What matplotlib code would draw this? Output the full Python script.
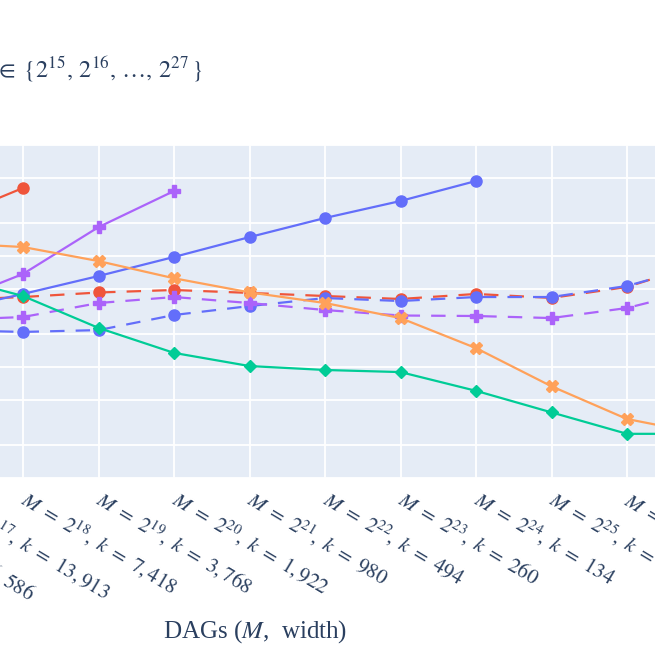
import numpy as np
import matplotlib
matplotlib.use("Agg")
import matplotlib.pyplot as plt
from matplotlib.transforms import ScaledTranslation

plt.rcParams['mathtext.fontset'] = 'stix'
plt.rcParams['font.family'] = ['Liberation Serif', 'DejaVu Serif']

#%% Data (DAG sizes M = 2^15 .. 2^27, widths k)
exps = list(range(15, 28))
widths = ['51,243', '26,586', '13,913', '7,418', '3,768', '1,922', '980',
          '494', '260', '134', '70', '36', '19']
labels = [rf"$M\ =\ 2^{{{e}}},\ k\ =\ {w}$" for e, w in zip(exps, widths)]

# solid traces
blue_solid = [18, 25, 32, 45.5, 66, 98, 148, 220, 313, 474]
red_solid = [110, 160, 215, 410]
green_solid = [130, 95, 66, 43.6, 22.5, 13.4, 10.2, 9.4, 9.0, 6.1, 3.9, 2.5, 2.5]
purple_solid = [18, 26, 37, 68.9, 182, 385]
orange_solid = [140, 136, 131, 120.5, 90, 63, 47, 37.7, 27.6, 14.8, 6.7, 3.4, 2.5]
# dashed traces
red_dashed = [38, 39, 40, 42.7, 46.9, 49.4, 46.5, 43.6, 41, 45.5, 41.9, 52.6, 86.5]
blue_dashed = [21, 21, 21.5, 20.7, 21.5, 29.4, 35.4, 41.8, 39.3, 42.7, 42.7, 53.7, 83]
purple_dashed = [25, 26, 26.5, 28.2, 37.7, 42.7, 37.7, 32.6, 29.1, 28.8, 27.6, 34, 50.4]

#%% Figure
W = 655
fig = plt.figure(figsize=(6.55, 6.55), dpi=100)
# plot area extends beyond the canvas (cropped view)
step = 75.5
x0px = 23 - 3 * step - 0.5 * step
wpx = 13 * step
ax = fig.add_axes([x0px / W, 1 - 478 / W, wpx / W, 333 / W])
ax.set_facecolor('#E5ECF6')
for s in ax.spines.values():
    s.set_visible(False)

x = np.arange(len(exps))
lw = 1.6
dash = (6.5, 5)
ms = 8

ax.plot(x, red_dashed, color='#EF553B', lw=lw, dashes=dash, marker='o', ms=ms)
ax.plot(x, blue_dashed, color='#636EFA', lw=lw, dashes=dash, marker='o', ms=ms)
ax.plot(x, purple_dashed, color='#AB63FA', lw=lw, dashes=dash, marker='P', ms=ms + 1)

ax.plot(x[:len(blue_solid)], blue_solid, color='#636EFA', lw=lw, marker='o', ms=ms)
ax.plot(x[:len(red_solid)], red_solid, color='#EF553B', lw=lw, marker='o', ms=ms)
ax.plot(x[:len(purple_solid)], purple_solid, color='#AB63FA', lw=lw, marker='P', ms=ms + 1)
ax.plot(x, orange_solid, color='#FFA15A', lw=lw, marker='X', ms=ms + 1)
ax.plot(x, green_solid, color='#00CC96', lw=lw, marker='D', ms=ms - 1.5)

ax.set_yscale('log')
ax.set_ylim(1, 1000)
ax.set_xlim(-0.5, 12.5)
ax.set_yticks([1, 2, 5, 10, 20, 50, 100, 200, 500, 1000])
ax.yaxis.set_minor_locator(matplotlib.ticker.NullLocator())
ax.set_yticklabels([])
ax.set_xticks(x)
ax.set_xticklabels([])
ax.tick_params(length=0)
ax.grid(True, color='white', lw=1.3)
ax.set_axisbelow(True)

# rotated tick labels, anchored at their start just right of each tick
shift = ScaledTranslation(6 / 100, -9 / 100, fig.dpi_scale_trans)
for i, lab in zip(x, labels):
    ax.text(i, 0, lab, transform=ax.get_xaxis_transform() + shift,
            rotation=-31, rotation_mode='anchor', ha='left', va='top',
            fontsize=15, color='#2a3f5f')

fig.text(255 / W, 1 - 632 / W, r"DAGs ($M$,  width)",
         ha='center', va='center', fontsize=18, color='#2a3f5f')
fig.text(203 / W, 1 - 70 / W,
         r"Runtime per DAG, $M\ \in\;\{2^{15},\,2^{16},\,\ldots,\,2^{27}\,\}$",
         ha='right', va='center', fontsize=17.5, color='#2a3f5f')

fig.savefig('out.png', dpi=100, facecolor='white')
